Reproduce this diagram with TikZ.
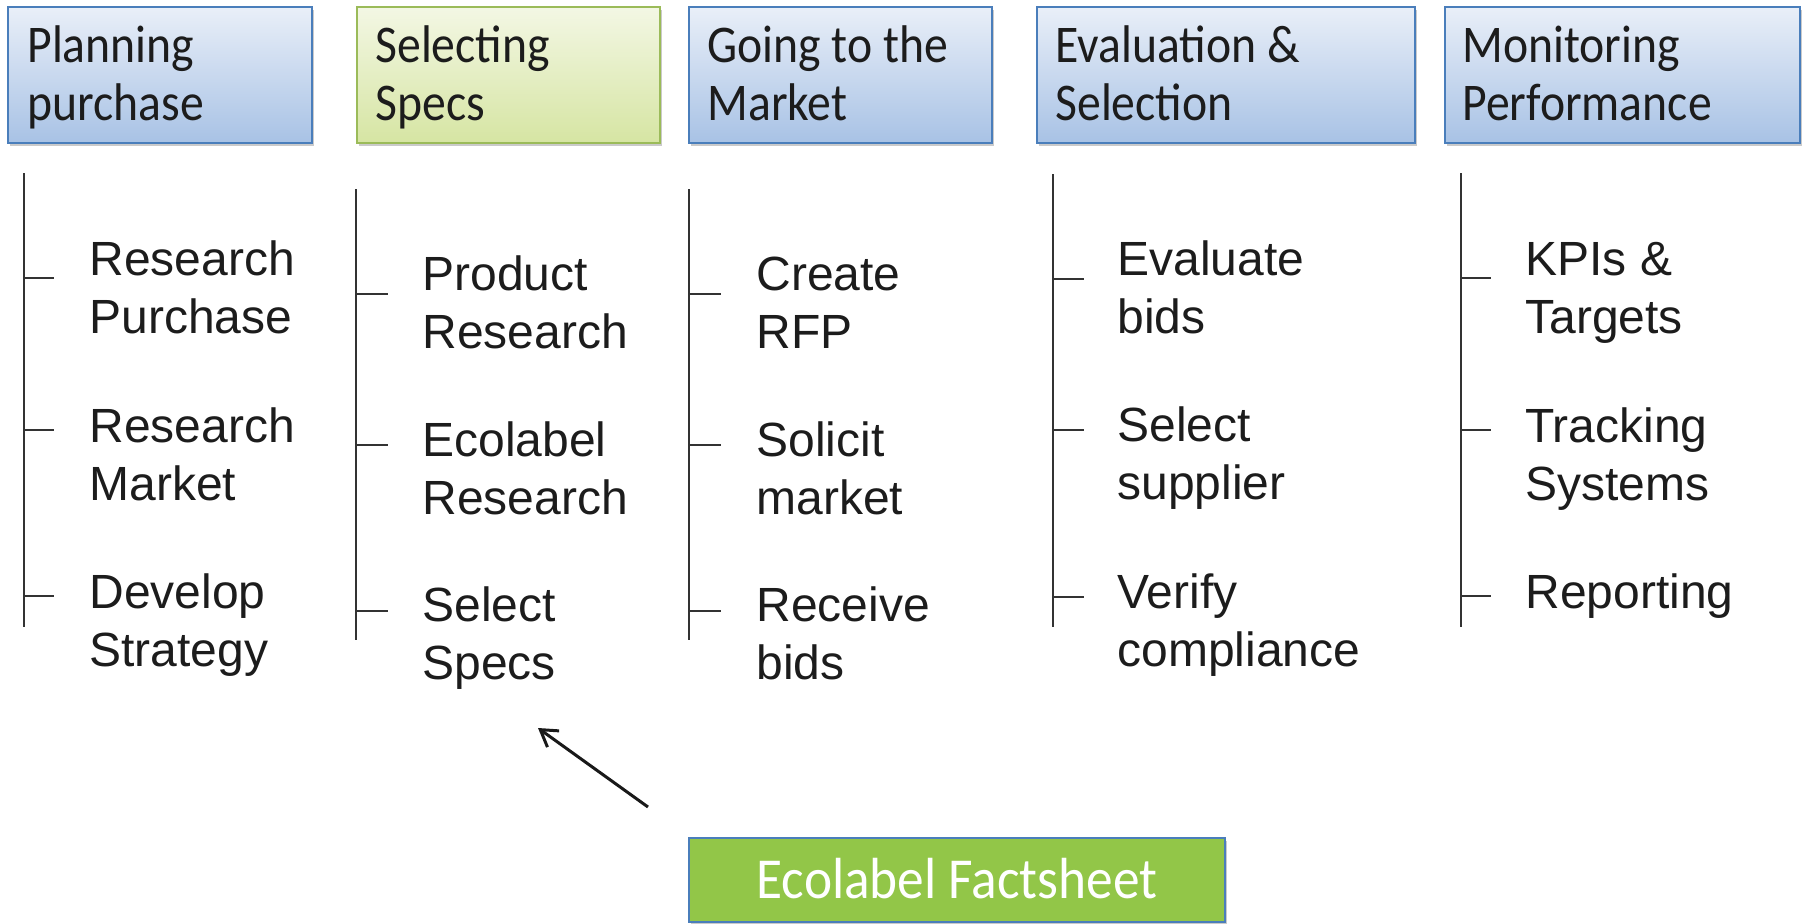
\documentclass[tikz,border=0pt]{standalone}
\usepackage{fontspec}
\setmainfont{Liberation Sans}
\newfontfamily\condfont[FakeStretch=0.9]{Carlito}
\newfontfamily\factfont[FakeStretch=0.92]{Carlito}
\usetikzlibrary{arrows.meta,shadows}
\definecolor{bluetop}{HTML}{E9EFF8}
\definecolor{bluebot}{HTML}{A8C2E5}
\definecolor{blueedge}{HTML}{4A7EBB}
\definecolor{greentop}{HTML}{F3F7E4}
\definecolor{greenbot}{HTML}{D6E5A3}
\definecolor{greenedge}{HTML}{9BBB59}
\definecolor{factfill}{HTML}{92C648}
\definecolor{textdark}{HTML}{1C1C1C}
\definecolor{linedark}{HTML}{333333}
\begin{document}
\begin{tikzpicture}[x=0.5pt,y=-0.5pt,
  boxshadow/.style={drop shadow={opacity=0.35,shadow xshift=0.8pt,shadow yshift=-1.6pt,fill=black!60}},
  hdrbox/.style={draw=blueedge,line width=1pt,top color=bluetop,bottom color=bluebot,boxshadow,inner sep=0pt},
  selbox/.style={draw=greenedge,line width=1pt,top color=greentop,bottom color=greenbot,boxshadow,inner sep=0pt},
  hdrtext/.style={anchor=base west,inner sep=0pt,text=textdark,font=\condfont\fontsize{26.5}{29}\selectfont},
  itemtext/.style={anchor=base west,inner sep=0pt,text=textdark,font=\fontsize{24}{29}\selectfont},
  stem/.style={draw=linedark,line width=1pt},
  tick/.style={draw=linedark,line width=1pt},
  pointer/.style={draw=black!90,line width=1.5pt,-{Straight Barb[length=8pt,width=10pt]}},
  factbox/.style={draw=blueedge,line width=1pt,fill=factfill,boxshadow,inner sep=0pt}]
\useasboundingbox (0,0) rectangle (1806,923);

% header boxes
\node[hdrbox,minimum width=152pt,minimum height=68pt] (b1) at (160,75) {};
\node[selbox,minimum width=151.5pt,minimum height=68pt] (b2) at (508.5,75) {};
\node[hdrbox,minimum width=151.5pt,minimum height=68pt] (b3) at (840.5,75) {};
\node[hdrbox,minimum width=189pt,minimum height=68pt] (b4) at (1226,75) {};
\node[hdrbox,minimum width=177.5pt,minimum height=68pt] (b5) at (1622.5,75) {};

\node[hdrtext] (b1t) at (27,62) {\begin{tabular}[t]{@{}l@{}}Planning\\purchase\end{tabular}};
\node[hdrtext] (b2t) at (375,62) {\begin{tabular}[t]{@{}l@{}}Selecting\\Specs\end{tabular}};
\node[hdrtext] (b3t) at (707,62) {\begin{tabular}[t]{@{}l@{}}Going to the\\Market\end{tabular}};
\node[hdrtext] (b4t) at (1055,62) {\begin{tabular}[t]{@{}l@{}}Evaluation \&\\Selection\end{tabular}};
\node[hdrtext] (b5t) at (1462,62) {\begin{tabular}[t]{@{}l@{}}Monitoring\\Performance\end{tabular}};

% column 1
\coordinate (c1top) at (24,173); \coordinate (c1bot) at (24,627);
\draw[stem] (c1top) -- (c1bot);
\coordinate (c1a) at (24,278); \coordinate (c1ae) at (54,278);
\coordinate (c1b) at (24,430); \coordinate (c1be) at (54,430);
\coordinate (c1c) at (24,596); \coordinate (c1ce) at (54,596);
\draw[tick] (c1a) -- (c1ae); \draw[tick] (c1b) -- (c1be); \draw[tick] (c1c) -- (c1ce);
\node[itemtext] (i11) at (89,275) {\begin{tabular}[t]{@{}l@{}}Research\\Purchase\end{tabular}};
\node[itemtext] (i12) at (89,442) {\begin{tabular}[t]{@{}l@{}}Research\\Market\end{tabular}};
\node[itemtext] (i13) at (89,608) {\begin{tabular}[t]{@{}l@{}}Develop\\Strategy\end{tabular}};

% column 2
\coordinate (c2top) at (356,189); \coordinate (c2bot) at (356,640);
\draw[stem] (c2top) -- (c2bot);
\coordinate (c2a) at (356,294); \coordinate (c2ae) at (388,294);
\coordinate (c2b) at (356,445); \coordinate (c2be) at (388,445);
\coordinate (c2c) at (356,611); \coordinate (c2ce) at (388,611);
\draw[tick] (c2a) -- (c2ae); \draw[tick] (c2b) -- (c2be); \draw[tick] (c2c) -- (c2ce);
\node[itemtext] (i21) at (422,290) {\begin{tabular}[t]{@{}l@{}}Product\\Research\end{tabular}};
\node[itemtext] (i22) at (422,456) {\begin{tabular}[t]{@{}l@{}}Ecolabel\\Research\end{tabular}};
\node[itemtext] (i23) at (422,621) {\begin{tabular}[t]{@{}l@{}}Select\\Specs\end{tabular}};

% column 3
\coordinate (c3top) at (689,189); \coordinate (c3bot) at (689,640);
\draw[stem] (c3top) -- (c3bot);
\coordinate (c3a) at (689,294); \coordinate (c3ae) at (721,294);
\coordinate (c3b) at (689,445); \coordinate (c3be) at (721,445);
\coordinate (c3c) at (689,611); \coordinate (c3ce) at (721,611);
\draw[tick] (c3a) -- (c3ae); \draw[tick] (c3b) -- (c3be); \draw[tick] (c3c) -- (c3ce);
\node[itemtext] (i31) at (756,290) {\begin{tabular}[t]{@{}l@{}}Create\\RFP\end{tabular}};
\node[itemtext] (i32) at (756,456) {\begin{tabular}[t]{@{}l@{}}Solicit\\market\end{tabular}};
\node[itemtext] (i33) at (756,621) {\begin{tabular}[t]{@{}l@{}}Receive\\bids\end{tabular}};

% column 4
\coordinate (c4top) at (1053,174); \coordinate (c4bot) at (1053,627);
\draw[stem] (c4top) -- (c4bot);
\coordinate (c4a) at (1053,279); \coordinate (c4ae) at (1084,279);
\coordinate (c4b) at (1053,430); \coordinate (c4be) at (1084,430);
\coordinate (c4c) at (1053,597); \coordinate (c4ce) at (1084,597);
\draw[tick] (c4a) -- (c4ae); \draw[tick] (c4b) -- (c4be); \draw[tick] (c4c) -- (c4ce);
\node[itemtext] (i41) at (1117,275) {\begin{tabular}[t]{@{}l@{}}Evaluate\\bids\end{tabular}};
\node[itemtext] (i42) at (1117,441) {\begin{tabular}[t]{@{}l@{}}Select\\supplier\end{tabular}};
\node[itemtext] (i43) at (1117,608) {\begin{tabular}[t]{@{}l@{}}Verify\\compliance\end{tabular}};

% column 5
\coordinate (c5top) at (1461,173); \coordinate (c5bot) at (1461,627);
\draw[stem] (c5top) -- (c5bot);
\coordinate (c5a) at (1461,278); \coordinate (c5ae) at (1491,278);
\coordinate (c5b) at (1461,430); \coordinate (c5be) at (1491,430);
\coordinate (c5c) at (1461,596); \coordinate (c5ce) at (1491,596);
\draw[tick] (c5a) -- (c5ae); \draw[tick] (c5b) -- (c5be); \draw[tick] (c5c) -- (c5ce);
\node[itemtext] (i51) at (1525,275) {\begin{tabular}[t]{@{}l@{}}KPIs \&\\Targets\end{tabular}};
\node[itemtext] (i52) at (1525,442) {\begin{tabular}[t]{@{}l@{}}Tracking\\Systems\end{tabular}};
\node[itemtext] (i53) at (1525,608) {Reporting};

% factsheet box and pointer
\node[factbox,minimum width=268pt,minimum height=42pt] (fact) at (957,880) {};
\node[anchor=base,inner sep=0pt,text=white,font=\factfont\fontsize{29}{32}\selectfont] (factt) at (957,898) {Ecolabel Factsheet};
\coordinate (ptail) at (648,807);
\coordinate (phead) at (538,728);
\draw[pointer] (ptail) -- (phead);
\end{tikzpicture}
\end{document}
